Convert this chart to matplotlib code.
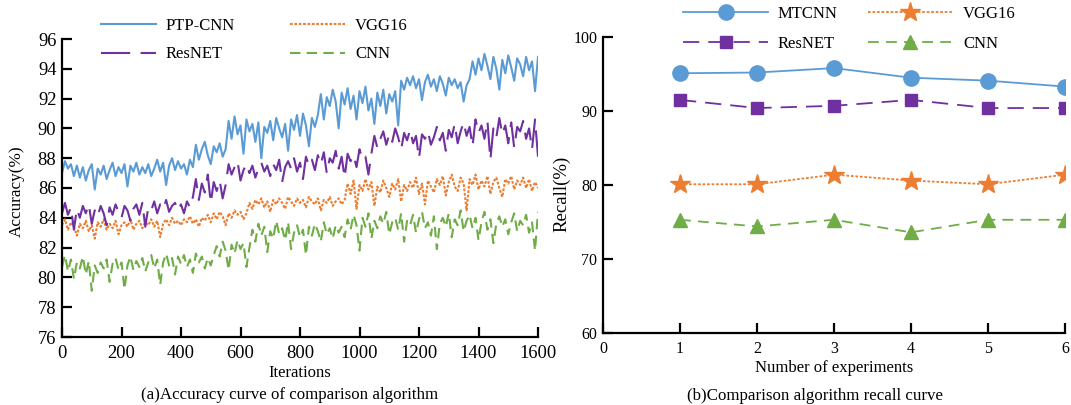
import numpy as np
import matplotlib
matplotlib.use("Agg")
import matplotlib.pyplot as plt

plt.rcParams['font.family'] = ['Liberation Serif', 'DejaVu Serif']

# ---------------- data (a): accuracy vs iterations (sampled every 10 iterations) -------------
iter_step = 10
ptp_cnn = [
    87.0, 87.8, 87.3, 87.6, 86.8, 87.5, 86.7, 87.4, 86.5, 87.2,
    87.6, 85.9, 87.3, 86.9, 87.5, 86.6, 87.2, 87.7, 86.8, 87.4,
    87.0, 87.6, 86.1, 87.5, 87.1, 87.7, 86.9, 87.4, 87.0, 87.6,
    86.8, 87.3, 87.9, 87.1, 87.7, 86.2, 87.5, 88.0, 87.2, 87.8,
    87.3, 87.6, 86.9, 87.9, 87.4,
    88.9, 87.9, 88.6, 89.1, 88.2, 87.6, 88.8, 88.4, 89.0, 88.1, 88.6,
    90.5, 89.3, 90.8, 89.6, 90.2, 88.3, 90.6, 89.8, 90.3, 89.1,
    90.4, 88.0, 90.1, 89.7, 90.5, 89.2, 90.7, 90.0, 89.4, 90.3,
    88.5, 90.6, 89.9, 90.9, 89.5, 91.0, 90.2, 88.8, 90.7, 90.1, 90.9,
    92.3, 90.6, 92.1, 91.5, 92.6, 91.8, 90.0, 92.4, 91.6, 92.7,
    91.3, 92.2, 90.6, 92.5, 91.7, 92.8, 91.2, 92.0, 90.3, 92.4,
    91.5, 92.6, 91.0, 92.3, 91.8, 92.5, 90.2,
    93.2, 92.6, 93.4, 92.9, 93.5, 92.7, 93.3, 91.9, 93.1, 93.6,
    92.8, 93.3, 92.5, 93.5, 93.0, 92.2, 93.4, 92.9, 93.3, 92.7,
    93.1, 91.8, 92.9, 93.3,
    94.5, 93.6, 94.7, 93.9, 95.0, 94.2, 93.3, 94.8, 94.0, 92.6,
    94.6, 93.7, 94.9, 94.1, 93.2, 94.7, 94.3, 93.5, 94.8, 93.9,
    94.5, 92.5, 94.8,
]
resnet_acc = [
    84.3, 85.0, 84.2, 84.7, 83.2, 84.6, 84.0, 84.8, 84.3, 84.9,
    83.6, 84.5, 84.1, 84.8, 84.3, 83.5, 84.7, 84.2, 84.9, 84.4,
    84.0, 84.8, 84.5, 83.8, 84.6, 84.9, 84.2, 85.0, 83.4, 84.7,
    84.5, 85.1, 84.3, 84.9, 84.6, 85.2, 84.4, 84.8, 85.0, 84.5,
    84.9, 84.3, 85.1, 84.7,
    85.4, 86.6, 85.2, 86.3, 85.7, 86.9, 85.0, 86.4, 85.8, 86.5, 85.3, 86.2,
    87.6, 86.9, 87.4, 87.8, 86.5, 87.2, 87.6, 87.0, 87.5, 86.7,
    87.3, 87.7, 87.1, 87.5, 86.8, 87.6, 87.2, 87.9, 86.4, 87.4,
    87.8, 87.3, 88.0, 87.1, 87.7, 86.6, 88.1, 87.5, 87.9, 87.2,
    88.2, 87.6, 88.4, 87.0, 88.0, 87.7, 88.5, 87.3, 88.1, 86.7,
    88.3, 87.8, 88.2, 87.4, 88.6, 87.9, 88.1, 86.9, 88.3,
    89.5, 88.7, 89.3, 89.8, 88.9, 89.6, 89.1, 90.0, 89.4, 88.6,
    89.7, 89.2, 89.9, 89.0, 89.5, 88.0, 89.6, 89.3, 89.8, 88.9,
    89.4, 90.1, 89.2, 89.7, 88.5, 89.9, 89.4, 90.3, 89.0, 89.8,
    90.4, 89.5, 90.1, 88.8, 90.6, 89.7, 90.2, 89.3, 90.5, 87.9,
    90.0, 89.4, 90.7, 89.6, 90.2, 89.0, 90.4, 88.7, 90.1, 89.8,
    90.5, 89.3, 90.0, 88.6, 90.6, 88.1,
]
vgg16_acc = [
    83.5, 83.9, 83.2, 83.7, 83.4, 82.8, 83.6, 83.3, 83.8, 83.1,
    83.5, 82.6, 83.7, 83.4, 83.9, 83.2, 83.6, 83.3, 83.8, 82.9,
    83.5, 83.7, 83.4, 83.9, 83.2, 83.6, 83.8, 83.3, 83.7, 83.5,
    83.9, 83.4, 83.8, 82.7, 83.6, 83.9, 83.5, 84.0, 83.6, 83.8,
    83.5, 83.9, 83.7, 84.1, 83.6, 83.9, 83.4, 84.0, 83.8, 84.2,
    83.7, 84.3, 83.9, 84.4, 84.1, 83.5, 84.3, 84.0, 84.5, 84.2,
    84.4, 83.9, 84.3,
    85.0, 84.6, 85.2, 84.9, 85.3, 84.7, 85.1, 84.4, 85.2, 84.9,
    85.3, 85.0, 84.6, 85.4, 85.1, 84.8, 85.3, 85.0, 85.2, 84.7,
    85.4, 85.1, 84.9, 85.3, 84.5, 85.2, 85.0, 85.4, 84.8, 85.1,
    85.3, 84.9, 85.2,
    86.3, 85.6, 86.5, 84.6, 86.2, 85.8, 86.6, 85.9, 86.4, 84.8,
    86.1, 85.7, 86.5, 86.0, 85.4, 86.3, 85.9, 86.6, 85.1, 86.2,
    85.8, 86.4, 86.0, 86.7, 85.6, 86.3, 84.9, 86.5, 86.1, 85.7,
    86.6, 86.2, 86.8, 85.5, 86.4, 86.9, 86.1, 85.8, 86.7, 86.3,
    84.5, 86.6, 86.2, 86.9, 85.9, 86.5, 86.1, 86.8, 85.6, 86.4,
    86.7, 86.0, 85.4, 86.6, 86.3, 86.8, 85.9, 86.5, 86.2, 86.7,
    86.0, 86.6, 85.8, 86.4, 86.0,
]
cnn_acc = [
    80.7, 81.5, 80.4, 81.2, 79.9, 81.0, 80.6, 81.4, 80.2, 81.1,
    79.1, 80.8, 80.3, 81.0, 80.6, 81.2, 79.7, 80.9, 81.3, 80.5,
    81.0, 79.2, 80.8, 81.4, 80.5, 81.1, 80.7, 81.3, 80.4, 81.0,
    81.5, 80.6, 81.2, 79.5, 81.0, 81.6, 80.8, 81.3, 80.2, 81.4,
    80.9, 81.5, 80.7, 81.2, 80.3, 81.6, 81.0, 81.4, 80.6, 81.3,
    80.8, 81.5,
    82.1, 81.4, 82.4, 81.8, 80.5, 82.2, 81.6, 82.5, 81.9, 82.3, 80.7, 82.0,
    83.2, 82.4, 83.6, 82.8, 83.4, 81.7, 83.1, 82.6, 83.8, 82.9,
    83.3, 82.5, 83.7, 81.9, 83.0, 83.5, 82.7, 83.2, 81.5, 83.4,
    82.8, 83.6, 83.1, 82.4, 83.7, 82.9, 83.3, 82.6, 83.5, 83.0,
    83.4, 82.7,
    83.9, 83.2, 84.2, 83.5, 81.8, 84.0, 83.4, 84.3, 82.6, 83.8,
    83.3, 84.1, 83.6, 84.4, 82.9, 83.7, 84.0, 83.2, 84.3, 82.4,
    83.8, 83.5, 84.2, 83.0, 83.9, 84.4, 83.3, 83.7, 82.8, 84.1,
    81.9, 83.6, 84.0, 83.4, 84.3, 82.7, 83.9, 83.5, 84.5, 83.1,
    83.8, 84.2, 83.3, 84.0, 82.5, 83.7, 84.4, 83.2, 83.9, 82.3,
    83.6, 84.1, 83.4, 83.9, 82.9, 83.7, 84.3, 83.1, 83.8, 83.5,
    84.2, 83.0, 83.7, 81.8, 84.4,
]

# ---------------- data (b): recall vs experiment number -------------
experiments = [1, 2, 3, 4, 5, 6]
mtcnn_rec = [95.1, 95.2, 95.8, 94.5, 94.1, 93.3]
resnet_rec = [91.5, 90.4, 90.7, 91.5, 90.4, 90.4]
vgg16_rec = [80.1, 80.1, 81.4, 80.6, 80.1, 81.4]
cnn_rec = [75.3, 74.4, 75.3, 73.6, 75.3, 75.3]

acc_yticks = [76, 78, 80, 82, 84, 86, 88, 90, 92, 94, 96]
acc_xticks = [0, 200, 400, 600, 800, 1000, 1200, 1400, 1600]
rec_yticks = [60, 70, 80, 90, 100]
rec_xticks = [0, 1, 2, 3, 4, 5, 6]

BLUE = '#5B9BD5'
ORANGE = '#ED7D31'
PURPLE = '#7030A0'
GREEN = '#70AD47'

W, H = 1071, 405
fig = plt.figure(figsize=(W / 100, H / 100), dpi=100)

def fx(px):
    return px / W

def fy(py):
    return 1 - py / H

# ---------------- (a) ----------------
axa = fig.add_axes([fx(62), fy(337), fx(538) - fx(62), fy(39) - fy(337)])
xa = lambda s: np.arange(len(s)) * iter_step
lw = 1.5
la1, = axa.plot(xa(ptp_cnn), ptp_cnn, color=BLUE, lw=lw, label='PTP-CNN')
la2, = axa.plot(xa(vgg16_acc), vgg16_acc, color=ORANGE, lw=lw, ls=(0, (1.3, 0.8)), label='VGG16')
la3, = axa.plot(xa(resnet_acc), resnet_acc, color=PURPLE, lw=lw, ls=(0, (14, 5)), label='ResNET')
la4, = axa.plot(xa(cnn_acc), cnn_acc, color=GREEN, lw=lw, ls=(0, (5, 3)), label='CNN')
axa.set_xlim(0, 1600)
axa.set_ylim(76, 96)
axa.set_xticks(acc_xticks)
axa.set_yticks(acc_yticks)
axa.set_xlabel('Iterations', fontsize=12, labelpad=2)
axa.set_ylabel('Accuracy(%)', fontsize=12.3)
axa.yaxis.set_label_coords((25 - 62) / 476, 0.49)

# ---------------- (b) ----------------
axb = fig.add_axes([fx(603), fy(333), fx(1065) - fx(603), fy(37) - fy(333)])
lb1, = axb.plot(experiments, mtcnn_rec, color=BLUE, lw=1.3, marker='o', ms=11, label='MTCNN')
lb2, = axb.plot(experiments, vgg16_rec, color=ORANGE, lw=1.3, ls=(0, (1.5, 1)), marker='*', ms=15, label='VGG16')
lb3, = axb.plot(experiments, resnet_rec, color=PURPLE, lw=1.3, ls=(0, (9, 5)), marker='s', ms=8.5, label='ResNET')
lb4, = axb.plot(experiments, cnn_rec, color=GREEN, lw=1.3, ls=(0, (6, 4)), marker='^', ms=10, label='CNN')
axb.set_xlim(0, 6)
axb.set_ylim(60, 100)
axb.set_xticks(rec_xticks)
axb.set_yticks(rec_yticks)
axb.set_xlabel('Number of experiments', fontsize=12, labelpad=2)
axb.set_ylabel('Recall(%)', fontsize=13.5)
axb.yaxis.set_label_coords((570 - 603) / 462, 0.47)

for ax in (axa, axb):
    for s in ('top', 'right'):
        ax.spines[s].set_visible(False)
    for s in ('left', 'bottom'):
        ax.spines[s].set_linewidth(1.6)
    ax.tick_params(direction='in', length=7, width=1.6, pad=4)
    ax.tick_params(axis='x', pad=6)
axa.tick_params(labelsize=13.3)
axb.tick_params(labelsize=11.5)

axa.legend([la1, la3, la2, la4], ['PTP-CNN', 'ResNET', 'VGG16', 'CNN'],
           loc='upper left', bbox_to_anchor=(fx(101), fy(18)), bbox_transform=fig.transFigure,
           ncol=2, frameon=False, fontsize=12, handlelength=3.3, handletextpad=0.6,
           columnspacing=3.3, labelspacing=0.75, borderpad=0, borderaxespad=0)
axb.legend([lb1, lb3, lb2, lb4], ['MTCNN', 'ResNET', 'VGG16', 'CNN'],
           loc='upper left', bbox_to_anchor=(fx(683), fy(6)), bbox_transform=fig.transFigure,
           ncol=2, frameon=False, fontsize=12, handlelength=5.1, handletextpad=0.6,
           columnspacing=1.8, labelspacing=0.85, borderpad=0, borderaxespad=0)

fig.text(fx(290), fy(395), '(a)Accuracy curve of comparison algorithm', ha='center', va='center', fontsize=12.2)
fig.text(fx(815), fy(396), '(b)Comparison algorithm recall curve', ha='center', va='center', fontsize=12.2)

fig.savefig('out.png', dpi=100)
